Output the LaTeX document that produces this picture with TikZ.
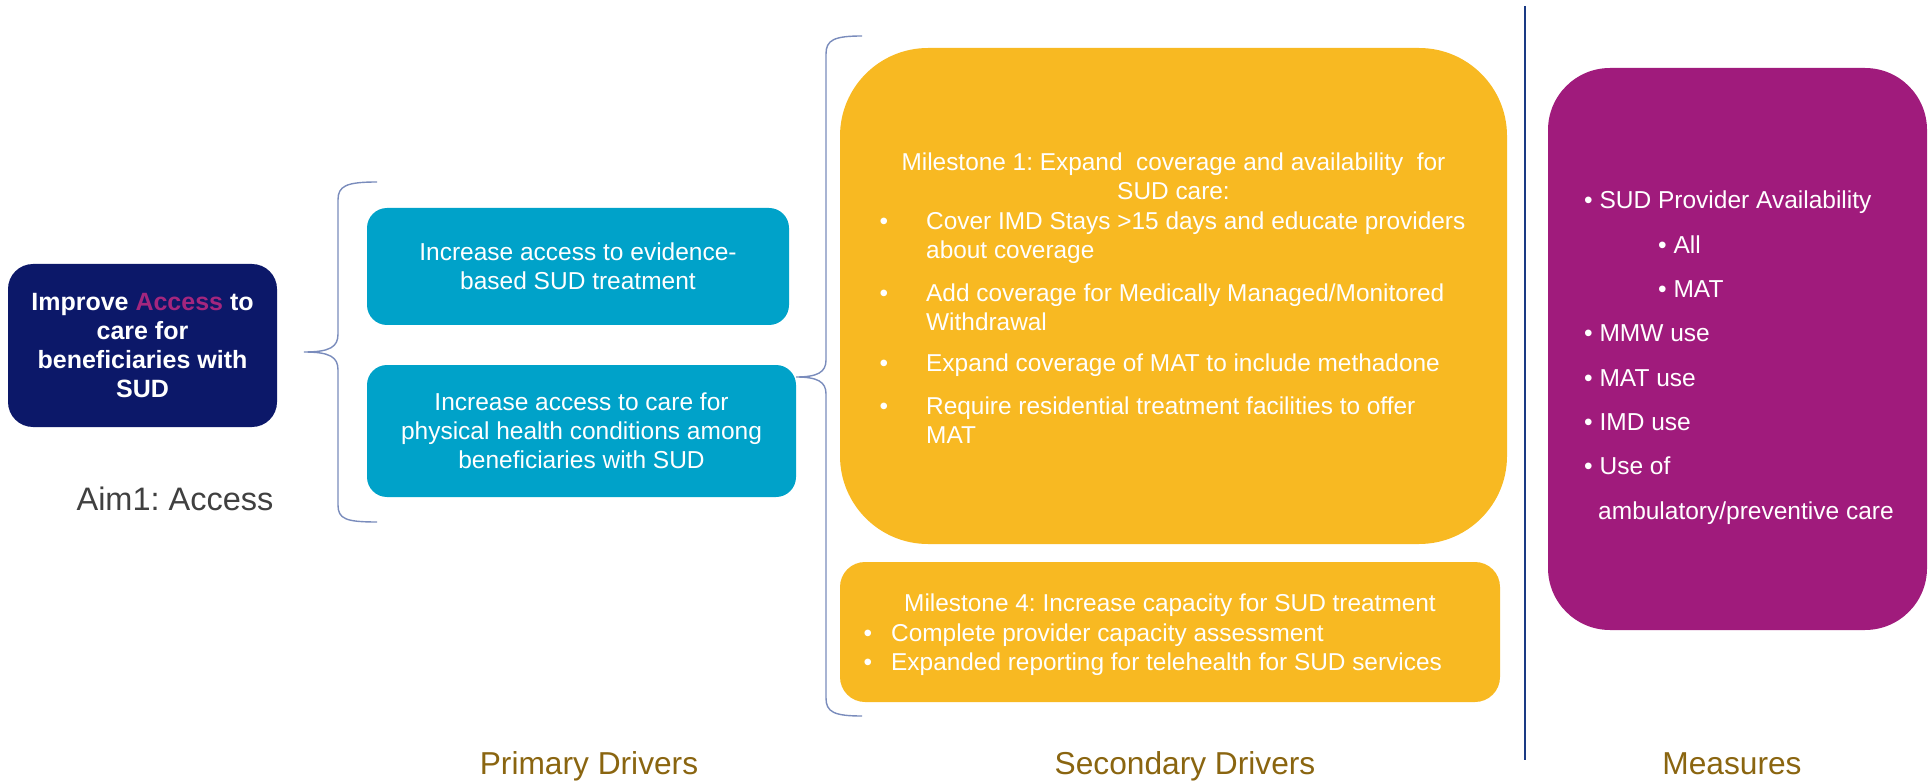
\documentclass[tikz,border=0pt]{standalone}
\usepackage{fontspec}
\setmainfont{Liberation Sans}
\frenchspacing
\definecolor{navybox}{HTML}{0C1869}
\definecolor{tealbox}{HTML}{00A2C9}
\definecolor{orangebox}{HTML}{F8B922}
\definecolor{purplebox}{HTML}{A01B7C}
\definecolor{accesscol}{HTML}{A4267E}
\definecolor{bracecol}{HTML}{7A8CBC}
\definecolor{linecol}{HTML}{1A3A84}
\definecolor{goldtxt}{HTML}{8A6510}
\definecolor{graytxt}{HTML}{404040}
\begin{document}
\begin{tikzpicture}[x=1pt,y=-1pt,
  panel/.style={draw=none, inner sep=0, align=center, text=white},
  ms/.style={inner sep=0, text height=17.5pt, text depth=0pt, text=white, font=\fontsize{24.4}{29}\selectfont},
  mm/.style={inner sep=0, text height=17.5pt, text depth=0pt, text=white, font=\fontsize{24.5}{29}\selectfont, anchor=west},
  footlbl/.style={inner sep=0, text height=22.8pt, text depth=0pt, text=goldtxt, font=\fontsize{31.7}{36}\selectfont},
  bracestyle/.style={draw=bracecol, line width=1.4pt}]
\useasboundingbox (0,0) rectangle (1929,783);

% main boxes
\node[panel, fill=navybox, rounded corners=25pt, minimum width=269pt, minimum height=163pt,
  font=\fontsize{25}{29}\selectfont\bfseries] (aim) at (142.5,345.5)
  {Improve \textcolor{accesscol}{Access} to\\care for\\beneficiaries with\\SUD};
\node[inner sep=0, text height=23.4pt, text depth=0pt, text=graytxt, font=\fontsize{32.5}{38}\selectfont] (aimlbl) at (175,499) {Aim1: Access};

\node[panel, fill=tealbox, rounded corners=20pt, minimum width=422pt, minimum height=117pt,
  font=\fontsize{24.5}{29}\selectfont] (pd1) at (578,266.5)
  {Increase access to evidence-\\based SUD treatment};
\node[panel, fill=tealbox, rounded corners=20pt, minimum width=429pt, minimum height=132pt,
  font=\fontsize{24.5}{29}\selectfont] (pd2) at (581.5,431)
  {Increase access to care for\\physical health conditions among\\beneficiaries with SUD};

\node[panel, fill=orangebox, rounded corners=88pt, minimum width=667pt, minimum height=496pt] (sd1) at (1173.5,296) {};
\node[panel, fill=orangebox, rounded corners=25pt, minimum width=660pt, minimum height=140pt] (sd2) at (1170,632) {};
\node[panel, fill=purplebox, rounded corners=62pt, minimum width=379pt, minimum height=562pt] (meas) at (1737.5,349) {};

% milestone 1 text
\node[ms] (m1h1) at (1173.5,162) {Milestone 1: Expand~~coverage and availability~~for};
\node[ms] (m1h2) at (1173.5,191) {SUD care:};
\node[ms] (b1) at (884,221) {•};
\node[ms, anchor=west] (b1a) at (926,221) {Cover IMD Stays >15 days and educate providers};
\node[ms, anchor=west] (b1b) at (926,250) {about coverage};
\node[ms] (b2) at (884,293) {•};
\node[ms, anchor=west] (b2a) at (926,293) {Add coverage for Medically Managed/Monitored};
\node[ms, anchor=west] (b2b) at (926,322) {Withdrawal};
\node[ms] (b3) at (884,363) {•};
\node[ms, anchor=west] (b3a) at (926,363) {Expand coverage of MAT to include methadone};
\node[ms] (b4) at (884,406) {•};
\node[ms, anchor=west] (b4a) at (926,406) {Require residential treatment facilities to offer};
\node[ms, anchor=west] (b4b) at (926,435) {MAT};

% milestone 4 text
\node[ms] (m4h) at (1170,603) {Milestone 4: Increase capacity for SUD treatment};
\node[ms] (c1) at (868,633) {•};
\node[ms, anchor=west] (c1a) at (891,633) {Complete provider capacity assessment};
\node[ms] (c2) at (868,662) {•};
\node[ms, anchor=west] (c2a) at (891,662) {Expanded reporting for telehealth for SUD services};

% measures text
\node[mm] (ma) at (1584,200) {•~SUD Provider Availability};
\node[mm] (mb) at (1658,245) {•~All};
\node[mm] (mc) at (1658,289) {•~MAT};
\node[mm] (md) at (1584,333) {•~MMW use};
\node[mm] (me) at (1584,377.5) {•~MAT use};
\node[mm] (mf) at (1584,421.5) {•~IMD use};
\node[mm] (mg) at (1584,466) {•~Use of};
\node[mm] (mh) at (1598,511) {ambulatory/preventive care};

% braces
\coordinate (br1top) at (377,182);
\coordinate (br1tip) at (304,352);
\coordinate (br1bot) at (377,522);
\draw[bracestyle] (br1top) .. controls (346,182) and (338,186) .. (338,200) -- (338,334)
  .. controls (338,347) and (330,352) .. (br1tip)
  .. controls (330,352) and (338,357) .. (338,370) -- (338,505)
  .. controls (338,519) and (346,522) .. (br1bot);
\coordinate (br2top) at (862,36);
\coordinate (br2tip) at (796,377);
\coordinate (br2bot) at (862,716);
\draw[bracestyle] (br2top) .. controls (834,36) and (826,40) .. (826,54) -- (826,360)
  .. controls (826,372) and (818,377) .. (br2tip)
  .. controls (818,377) and (826,382) .. (826,394) -- (826,698)
  .. controls (826,712) and (834,716) .. (br2bot);

% divider
\coordinate (divtop) at (1525,6);
\coordinate (divbot) at (1525,760);
\draw[linecol, line width=2.5pt] (divtop) -- (divbot);

% footer labels
\node[footlbl] (l1) at (589,763) {Primary Drivers};
\node[footlbl] (l2) at (1185,763) {Secondary Drivers};
\node[footlbl] (l3) at (1732,763) {Measures};
\end{tikzpicture}
\end{document}
